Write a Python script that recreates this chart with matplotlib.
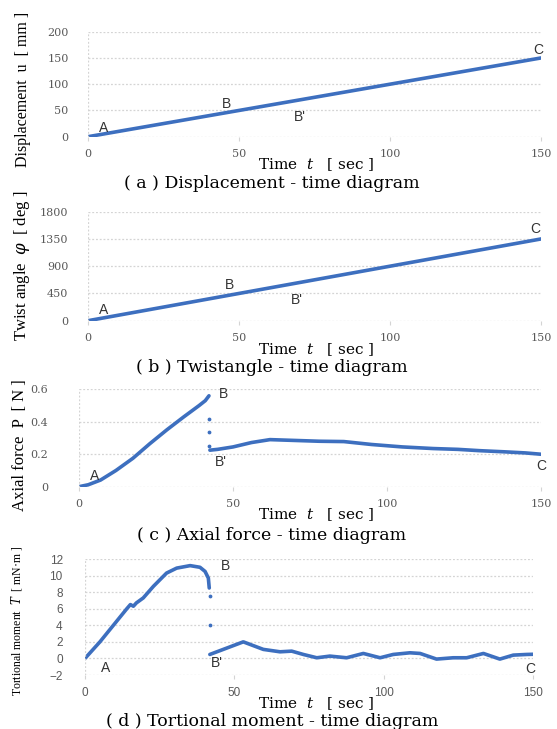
import numpy as np
import matplotlib
matplotlib.use("Agg")
import matplotlib.pyplot as plt

# ---- data ----
t_lin = [0, 150]
disp_mm = [0, 150]
twist_deg = [0, 1350]

# axial force, loading part (A -> B) and after rupture (B' -> C)
t_force_1 = [0, 3, 7, 12, 17.5, 23, 28.5, 34, 39, 41, 42.2]
force_1 = [0, 0.012, 0.041, 0.10, 0.175, 0.265, 0.35, 0.43, 0.50, 0.53, 0.56]
t_force_drop = [42.3, 42.3, 42.3]
force_drop = [0.42, 0.34, 0.25]
t_force_2 = [42.5, 45, 50, 56, 62, 70, 78, 86, 95, 105, 115, 123, 130, 138, 145, 150]
force_2 = [0.225, 0.23, 0.245, 0.272, 0.29, 0.285, 0.28, 0.278, 0.26, 0.245,
           0.235, 0.23, 0.222, 0.215, 0.208, 0.2]

# tortional moment
t_moment_1 = [0, 5, 9.5, 14, 15.2, 16.2, 17.2, 19.5, 22.9, 27.3, 30.7, 35.2, 38.5,
              40.2, 41.3, 41.6]
moment_1 = [0, 2.0, 4.0, 6.0, 6.5, 6.3, 6.7, 7.3, 8.7, 10.3, 10.9, 11.2, 11.0,
            10.5, 9.7, 8.5]
t_moment_drop = [41.7, 41.7]
moment_drop = [7.5, 4.0]
t_moment_2 = [41.8, 53, 59.7, 65.3, 69.2, 73.1, 77.6, 82, 87.6, 93.2, 98.8, 103.2,
              108.8, 112.2, 117.7, 123.3, 127.8, 133.4, 138.9, 143.4, 147.9, 150]
moment_2 = [0.48, 2.0, 1.09, 0.8, 0.88, 0.48, 0.08, 0.28, 0.08, 0.6, 0.08, 0.48,
            0.68, 0.6, -0.08, 0.08, 0.08, 0.6, -0.08, 0.4, 0.48, 0.5]

x_ticks = [0, 50, 100, 150]
ticks_a = [0, 50, 100, 150, 200]
ticks_b = [0, 450, 900, 1350, 1800]
ticks_c = [0, 0.2, 0.4, 0.6]
tick_labels_c = ["0", "0.2", "0.4", "0.6"]
ticks_d = [-2, 0, 2, 4, 6, 8, 10, 12]

BLUE = "#3d6fbf"
GRID = "#d4d4d4"
TICK = "#595959"
SERIF = "Liberation Serif"
WIDE_SERIF = "DejaVu Serif"
SANS = "Liberation Sans"

plt.rcParams["mathtext.fontset"] = "custom"
plt.rcParams["mathtext.rm"] = "DejaVu Serif"
plt.rcParams["mathtext.it"] = "DejaVu Serif:italic"

W, H = 557, 729
fig = plt.figure(figsize=(W / 100, H / 100), dpi=100)


def make_axes(x0, x1, ytop, ybot):
    return fig.add_axes([x0 / W, 1 - ybot / H, (x1 - x0) / W, (ybot - ytop) / H])


def style(ax, yticks, ylabels=None, tick_font=WIDE_SERIF, ypad=14, xpad=6, size=8):
    ax.set_xlim(0, 150)
    ax.set_ylim(yticks[0], yticks[-1])
    ax.set_xticks(x_ticks)
    ax.set_yticks(yticks)
    if ylabels is not None:
        ax.set_yticklabels(ylabels)
    for s in ax.spines.values():
        s.set_visible(False)
    ax.grid(axis="y", color=GRID, linestyle=(0, (1.5, 1.5)), linewidth=0.9)
    ax.axvline(0, color=GRID, linestyle=(0, (1.5, 1.5)), linewidth=0.9)
    ax.tick_params(axis="y", length=0, pad=ypad, labelsize=size, labelcolor=TICK)
    ax.tick_params(axis="x", length=3, color=GRID, pad=xpad, labelsize=size,
                   labelcolor=TICK)
    for lab in ax.get_xticklabels() + ax.get_yticklabels():
        lab.set_fontfamily(tick_font)
    ax.set_facecolor("none")


def label(ax, x, y, s):
    ax.text(x, y, s, fontsize=10, family=SANS, color="#333333",
            ha="center", va="center")


def captions(xlab_y, cap_y, caption):
    fig.text(316 / W, 1 - xlab_y / H, r"Time  $\mathit{t}$   [ sec ]",
             family=WIDE_SERIF, fontsize=11, ha="center", va="center")
    fig.text(272 / W, 1 - cap_y / H, caption, family=WIDE_SERIF, fontsize=12.5,
             ha="center", va="center")


# (a) displacement
ax = make_axes(88, 541, 31.7, 136.7)
ax.plot(t_lin, disp_mm, color=BLUE, lw=2.6, solid_capstyle="round")
style(ax, ticks_a)
label(ax, 5, 16, "A")
label(ax, 46, 62, "B")
label(ax, 70, 37, "B'")
label(ax, 149, 166, "C")
fig.text(23 / W, 1 - 89 / H, "Displacement  u  [ mm ]", family=SERIF,
         fontsize=11.5, rotation=90, ha="center", va="center")
captions(165, 183, "( a ) Displacement - time diagram")

# (b) twist angle
ax = make_axes(88, 541, 211.7, 320.7)
ax.plot(t_lin, twist_deg, color=BLUE, lw=2.6, solid_capstyle="round")
style(ax, ticks_b)
label(ax, 5, 176, "A")
label(ax, 47, 590, "B")
label(ax, 69, 350, "B'")
label(ax, 148, 1510, "C")
fig.text(22 / W, 1 - 266 / H, r"Twist angle  $\mathit{\varphi}$  [ deg ]",
         family=SERIF, fontsize=12, rotation=90, ha="center", va="center")
captions(350, 368, "( b ) Twistangle - time diagram")

# (c) axial force
ax = make_axes(79, 541, 389.3, 486.7)
ax.plot(t_force_1, force_1, color=BLUE, lw=2.6, solid_capstyle="round")
ax.plot(t_force_2, force_2, color=BLUE, lw=2.6, solid_capstyle="round")
ax.scatter(t_force_drop, force_drop, s=3, color=BLUE, zorder=3)
style(ax, ticks_c, tick_labels_c, ypad=22)
label(ax, 5, 0.065, "A")
label(ax, 47, 0.57, "B")
label(ax, 46, 0.155, "B'")
label(ax, 150, 0.13, "C")
fig.text(20 / W, 1 - 445 / H, "Axial force  P  [ N ]", family=SERIF,
         fontsize=12, rotation=90, ha="center", va="center")
captions(515, 535, "( c ) Axial force - time diagram")

# (d) tortional moment
ax = make_axes(85, 533, 559, 675)
ax.plot(t_moment_1, moment_1, color=BLUE, lw=2.6, solid_capstyle="round")
ax.plot(t_moment_2, moment_2, color=BLUE, lw=2.6, solid_capstyle="round")
ax.scatter(t_moment_drop, moment_drop, s=3, color=BLUE, zorder=3)
style(ax, ticks_d, tick_font=SANS, ypad=16, size=8.5)
label(ax, 7, -1.1, "A")
label(ax, 47, 11.2, "B")
label(ax, 44, -0.6, "B'")
label(ax, 149, -1.3, "C")
fig.text(17 / W, 1 - 621 / H, r"Tortional moment  $\mathit{T}$  [ mN$\cdot$m ]",
         family=SERIF, fontsize=8.5, rotation=90, ha="center", va="center")
captions(704, 722, "( d ) Tortional moment - time diagram")

fig.savefig("out.png", dpi=100, facecolor="white")
